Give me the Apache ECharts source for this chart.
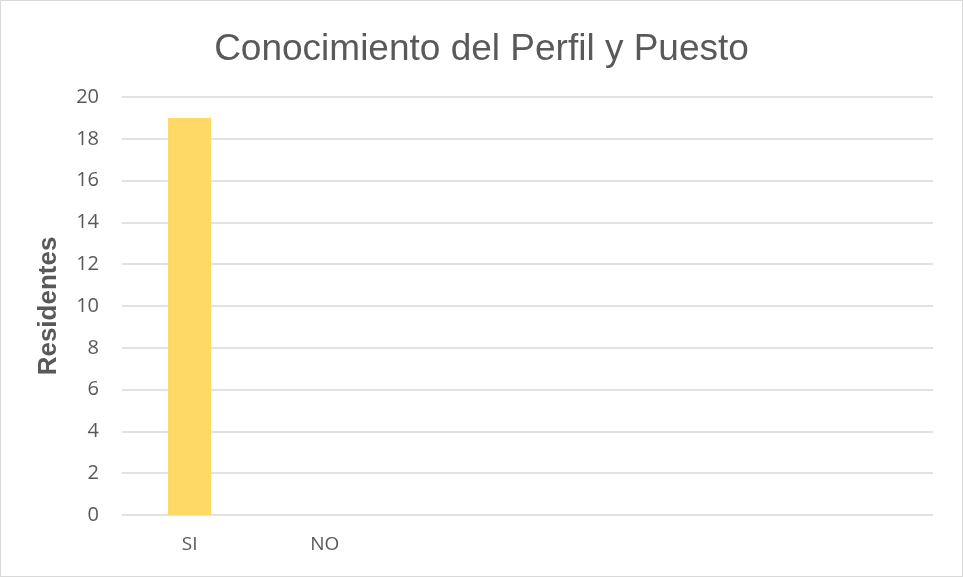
<!DOCTYPE html>
<html><head><meta charset="utf-8">
<script src="https://cdn.jsdelivr.net/npm/echarts@6/dist/echarts.min.js"></script>
<style>html,body{margin:0;padding:0;background:#fff}#c{width:963px;height:577px;box-sizing:border-box;border:1px solid #d9d9d9}</style>
</head><body><div id="c"></div>
<script>
const titleText = 'Conocimiento del Perfil y Puesto';
const yAxisName = 'Residentes';
const categories = ['SI', 'NO', '', '', '', ''];
const values = [19, null, null, null, null, null];
const yTicks = [0, 2, 4, 6, 8, 10, 12, 14, 16, 18, 20];

const chart = echarts.init(document.getElementById('c'));
chart.setOption({
  animation: false,
  title: {
    text: titleText, left: 'center', top: 25,
    textStyle: { fontFamily: 'Liberation Sans', fontWeight: 'normal', fontSize: 37, color: '#595959' }
  },
  grid: { left: 121, right: 29, top: 96, bottom: 61 },
  xAxis: {
    type: 'category', data: categories,
    axisLine: { show: false }, axisTick: { show: false },
    axisLabel: { color: '#595959', fontSize: 19, fontFamily: 'Open Sans, Noto Sans', margin: 20 }
  },
  yAxis: {
    type: 'value', min: yTicks[0], max: yTicks[yTicks.length - 1], interval: 2,
    name: yAxisName, nameLocation: 'middle', nameGap: 60,
    nameTextStyle: { fontFamily: 'Liberation Sans', fontWeight: 'bold', fontSize: 26, color: '#595959' },
    axisLine: { show: false }, axisTick: { show: false },
    axisLabel: { color: '#595959', fontSize: 20, fontFamily: 'Open Sans, Noto Sans', margin: 23 },
    splitLine: { lineStyle: { color: '#d9d9d9', width: 1.5 } }
  },
  series: [{
    type: 'bar', data: values, barWidth: '32%',
    itemStyle: { color: '#ffd966' }
  }]
});
</script></body></html>
